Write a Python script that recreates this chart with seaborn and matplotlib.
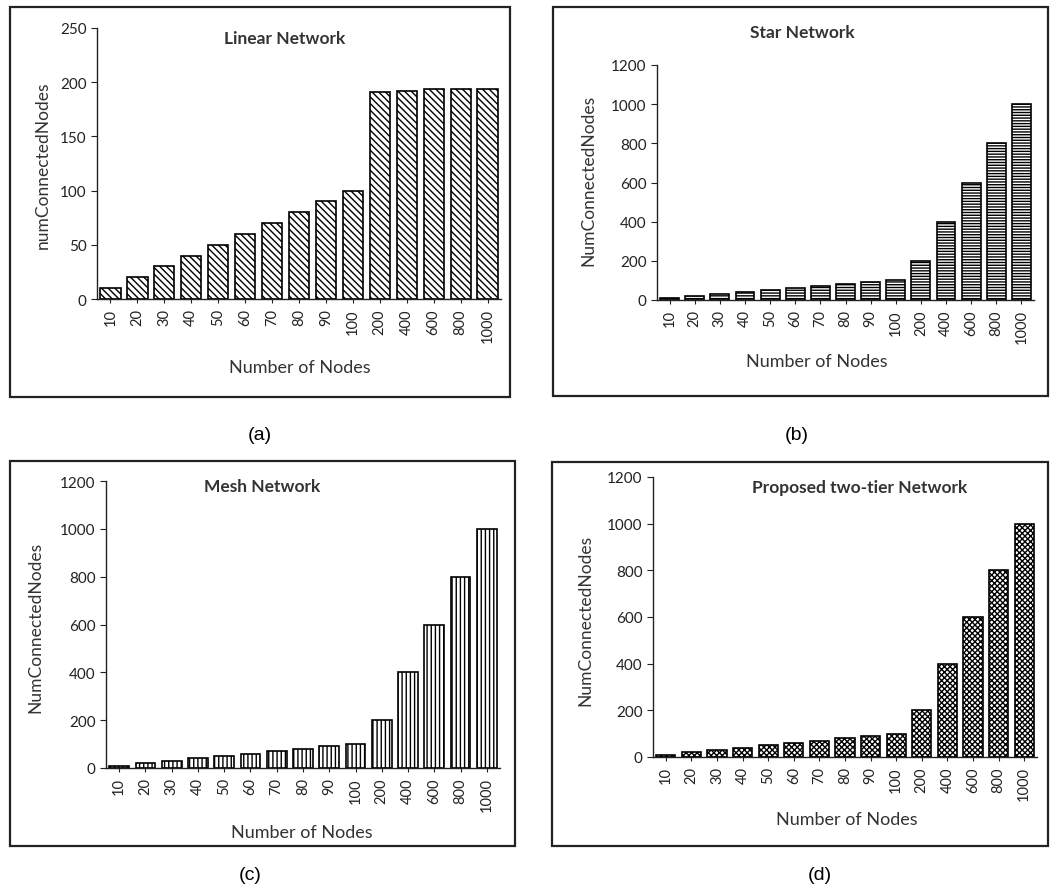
import numpy as np
import pandas as pd
import seaborn as sns
import matplotlib.pyplot as plt
from matplotlib.patches import Rectangle

nodes = ['10', '20', '30', '40', '50', '60', '70', '80', '90', '100',
         '200', '400', '600', '800', '1000']
linear = [10, 20, 30, 40, 50, 60, 70, 80, 90, 100, 191, 192, 194, 194, 194]
star = [10, 20, 30, 40, 50, 60, 70, 80, 90, 100, 200, 400, 600, 800, 1000]
mesh = [10, 20, 30, 40, 50, 60, 70, 80, 90, 100, 200, 400, 600, 800, 1000]
two_tier = [10, 20, 30, 40, 50, 60, 70, 80, 90, 100, 200, 400, 600, 800, 1000]

sns.set_style('white')
plt.rcParams['font.family'] = ['Lato', 'DejaVu Sans']
plt.rcParams['hatch.linewidth'] = 1.0

W, H = 1054, 895
fig = plt.figure(figsize=(W / 100, H / 100), dpi=100)


def px_axes(left, right, top, bottom):
    return fig.add_axes([left / W, 1 - bottom / H, (right - left) / W, (bottom - top) / H])


def frame(x0, x1, y0, y1):
    fig.patches.append(Rectangle((x0 / W, 1 - y1 / H), (x1 - x0) / W, (y1 - y0) / H,
                                 transform=fig.transFigure, fill=False,
                                 edgecolor='#222222', linewidth=1.6))


panels = [
    # values, hatch, ylabel, ylim/step, axes box, frame, title pos, ylabel pos, xlabel pos, tag
    (linear, '\\\\\\\\\\', 'numConnectedNodes', (250, 50), (97, 501, 29, 300), (10, 510, 8, 398),
     ('Linear Network', 285, 39), (43, 165), (300, 368), ('(a)', 260, 436)),
    (star, '------', 'NumConnectedNodes', (1200, 200), (657, 1034, 66, 301), (553, 1048, 8, 397),
     ('Star Network', 802, 33), (588, 180), (817, 362), ('(b)', 797, 436)),
    (mesh, '||||', 'NumConnectedNodes', (1200, 200), (106, 500, 482, 769), (10, 515, 462, 847),
     ('Mesh Network', 262, 487), (35, 627), (302, 833), ('(c)', 250, 876)),
    (two_tier, 'xxxxxx', 'NumConnectedNodes', (1200, 200), (653, 1037, 478, 758), (552, 1048, 463, 847),
     ('Proposed two-tier Network', 860, 488), (585, 620), (847, 820), ('(d)', 820, 876)),
]

for vals, hatch, ylab, (ymax, ystep), box, fr, ttl, ylp, xlp, tag in panels:
    ax = px_axes(*box)
    df = pd.DataFrame({'nodes': nodes, 'count': vals})
    sns.barplot(data=df, x='nodes', y='count', ax=ax, color='white',
                edgecolor='black', linewidth=1.2, width=0.75, saturation=1)
    for p in ax.patches:
        p.set_hatch(hatch)
    ax.set_xlim(-0.5, len(nodes) - 0.5)
    ax.set_ylim(0, ymax)
    ax.set_yticks(np.arange(0, ymax + 1, ystep))
    ax.tick_params(axis='y', labelsize=11, colors='#222222', length=4, width=0.8, direction='out', left=True)
    ax.tick_params(axis='x', labelsize=10.5, colors='#222222', length=3, width=0.8, direction='out',
                   bottom=True, rotation=90)
    for s in ['top', 'right']:
        ax.spines[s].set_visible(False)
    for s in ['left', 'bottom']:
        ax.spines[s].set_color('#222222')
        ax.spines[s].set_linewidth(1.0)
    ax.set_xlabel('')
    ax.set_ylabel('')
    fig.text(ttl[1] / W, 1 - ttl[2] / H, ttl[0], ha='center', va='center',
             fontsize=12.5, fontweight='bold', color='#333333')
    fig.text(ylp[0] / W, 1 - ylp[1] / H, ylab, ha='center', va='center', rotation=90,
             fontsize=12.5, color='#333333')
    fig.text(xlp[0] / W, 1 - xlp[1] / H, 'Number of Nodes', ha='center', va='center',
             fontsize=13, color='#333333')
    fig.text(tag[1] / W, 1 - tag[2] / H, tag[0], ha='center', va='center',
             fontsize=14, family=['Liberation Sans', 'DejaVu Sans'], color='black')
    frame(*fr)

fig.savefig('out.png', dpi=100, facecolor='white')
